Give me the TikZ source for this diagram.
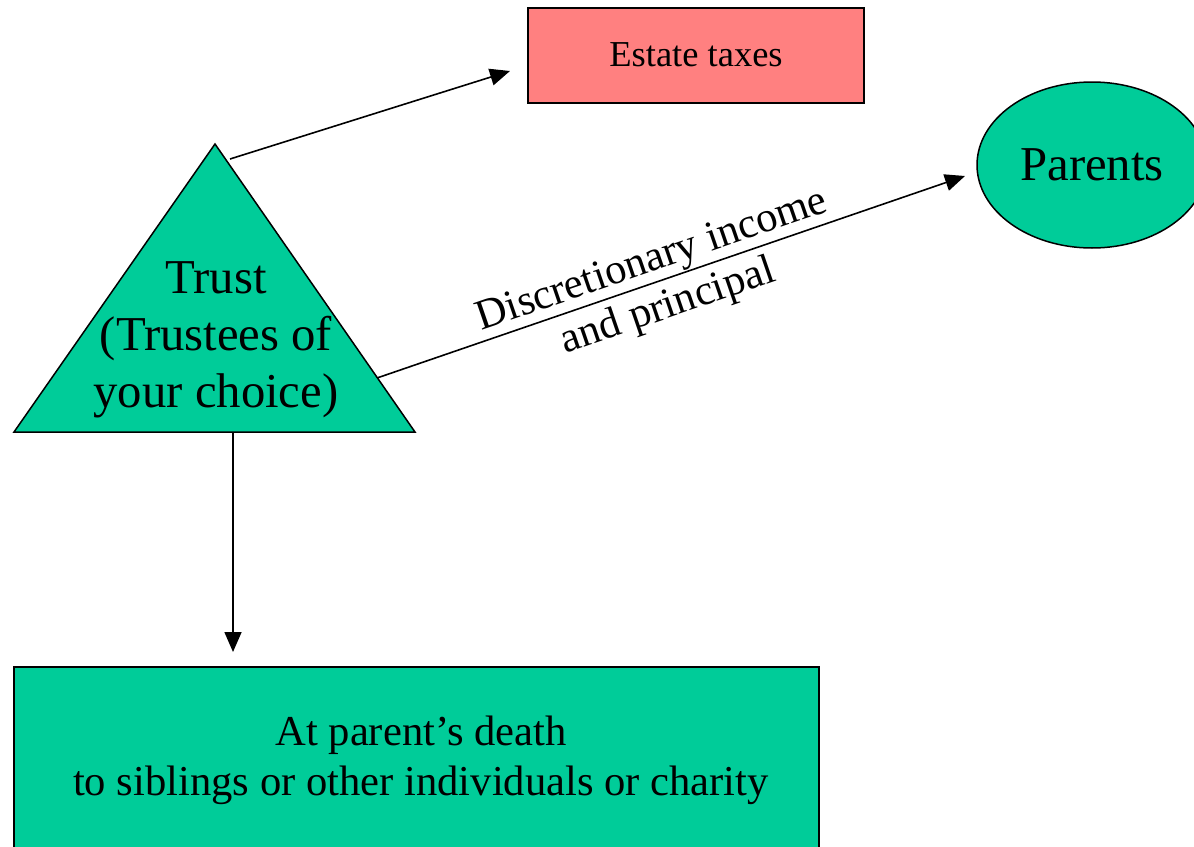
\documentclass[tikz,border=0pt]{standalone}
\usepackage{fontspec}
\setmainfont{Liberation Serif}
\usetikzlibrary{arrows.meta,shapes.geometric}
\definecolor{trustgreen}{RGB}{0,204,153}
\definecolor{taxpink}{RGB}{255,128,128}
\tikzset{
  box/.style={draw=black, line width=1.5pt, rectangle, inner sep=0pt},
  arr/.style={line width=1.6pt, -{Triangle[length=20pt,width=17pt]}},
  bigtext/.style={font=\fontsize{48.7}{57}\selectfont},
  midtext/.style={font=\fontsize{42.6}{50}\selectfont},
  smalltext/.style={font=\fontsize{36.5}{42}\selectfont},
}
\begin{document}
\begin{tikzpicture}[x=1pt,y=-1pt]
\useasboundingbox (0,0) rectangle (1194,846);
\clip (0,0) rectangle (1194,846);

% estate taxes box
\node[box, fill=taxpink, minimum width=336pt, minimum height=95pt, smalltext]
  (tax) at (696,55.5) {\raisebox{2pt}{Estate taxes}};

% parents ellipse
\node[draw=black, line width=1.5pt, ellipse, fill=trustgreen,
      minimum width=230pt, minimum height=166pt, inner sep=0pt, bigtext]
  (parents) at (1092,165) {Parents};

% the trust triangle
\coordinate (apex) at (215,144);
\coordinate (bl) at (14,432);
\coordinate (br) at (415,432);
\fill[trustgreen] (apex) -- (br) -- (bl) -- cycle;
\draw[line width=1.5pt, line join=miter] (apex) -- (br) -- (bl) -- cycle;
\node[align=center, bigtext, inner sep=0pt] (trust) at (216,340)
  {Trust\\(Trustees of\\your choice)};

% beneficiaries box
\node[box, fill=trustgreen, minimum width=805pt, minimum height=186pt,
      align=center, midtext]
  (heirs) at (416.5,760) {\hspace*{9pt}At parent’s death\\\hspace*{9pt}to siblings or other individuals or charity};

% connectors
\coordinate (trustA) at (230,159);
\coordinate (taxin) at (510,71);
\coordinate (trustB) at (377,378);
\coordinate (parin) at (965,176);
\coordinate (trustC) at (233,432);
\coordinate (heirsin) at (233,652);

\draw[arr] (trustA) -- (taxin);
\draw[arr] (trustB) -- (parin)
  node[pos=0.48, sloped, align=center, inner sep=0pt,
       font=\fontsize{42.6}{49}\selectfont, yshift=-4pt]
  (lbl) {Discretionary income\\and principal};
\draw[arr] (trustC) -- (heirsin);
\end{tikzpicture}
\end{document}
